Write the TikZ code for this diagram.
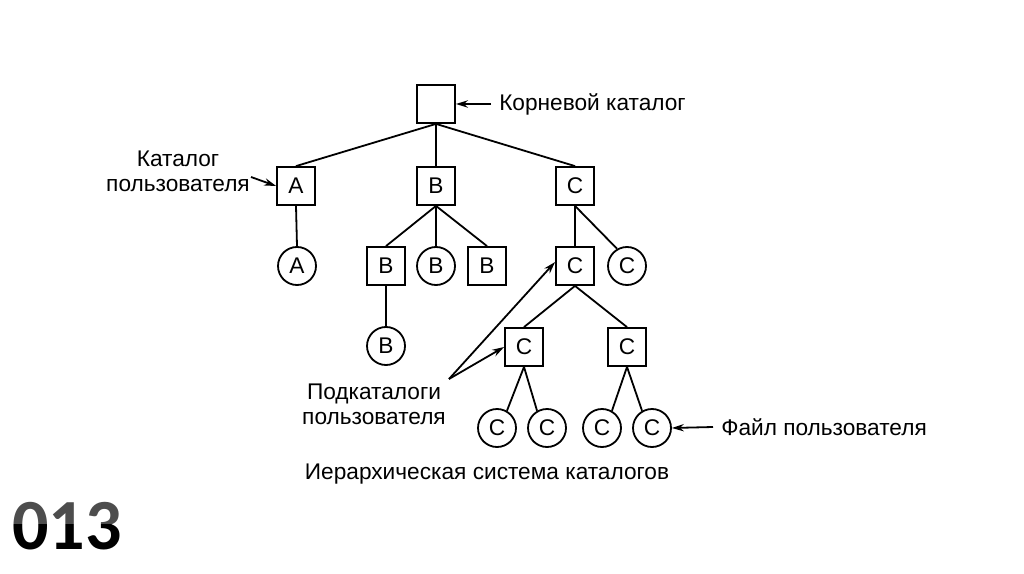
\documentclass[tikz,border=0pt]{standalone}
\usepackage{fontspec}
\setmainfont{Liberation Sans}
\newfontfamily\numfont{Carlito}
\usetikzlibrary{arrows.meta}
\begin{document}
\begin{tikzpicture}[x=0.75pt,y=-0.75pt,
  dirbox/.style={draw,line width=1.35pt,minimum size=28.5pt,inner sep=0pt,font=\fontsize{17}{19}\selectfont},
  filenode/.style={draw,circle,line width=1.35pt,minimum size=28.5pt,inner sep=0pt,font=\fontsize{17}{19}\selectfont},
  edge/.style={line width=1.35pt},
  lab/.style={font=\fontsize{17}{19}\selectfont,align=center,inner sep=0pt},
  arr/.style={line width=1.35pt,-{Stealth[length=9pt,width=5.5pt]}},
  bignum/.style={font=\numfont\bfseries\fontsize{54}{54}\selectfont,inner sep=0pt}]
\useasboundingbox (0,0) rectangle (1024,574);

% tree nodes
\node[dirbox] (root) at (436,104) {};
\node[dirbox] (A) at (296,186) {A};
\node[dirbox] (B) at (436,186) {B};
\node[dirbox] (C) at (575,186) {C};

\node[filenode] (Af) at (297,266) {A};
\node[dirbox] (B1) at (386,266) {B};
\node[filenode] (B2) at (436,266) {B};
\node[dirbox] (B3) at (487,266) {B};
\node[dirbox] (C1) at (575,266) {C};
\node[filenode] (C2) at (627,266) {C};

\node[filenode] (B1f) at (386,346) {B};
\node[dirbox] (C11) at (524,347) {C};
\node[dirbox] (C12) at (627,347) {C};

\node[filenode] (f1) at (497,428) {C};
\node[filenode] (f2) at (547,428) {C};
\node[filenode] (f3) at (602,428) {C};
\node[filenode] (f4) at (652,428) {C};

% edges
\draw[edge] (root.south) -- (A.north);
\draw[edge] (root.south) -- (B.north);
\draw[edge] (root.south) -- (C.north);
\draw[edge] (A.south) -- (Af.north);
\draw[edge] (B.south) -- (B1.north);
\draw[edge] (B.south) -- (B2.north);
\draw[edge] (B.south) -- (B3.north);
\draw[edge] (C.south) -- (C1.north);
\draw[edge] (C.south) -- (C2.120);
\draw[edge] (B1.south) -- (B1f.north);
\draw[edge] (C1.south) -- (C11.north);
\draw[edge] (C1.south) -- (C12.north);
\draw[edge] (C11.south) -- (f1.60);
\draw[edge] (C11.south) -- (f2.120);
\draw[edge] (C12.south) -- (f3.60);
\draw[edge] (C12.south) -- (f4.120);

% labels
\node[lab,anchor=west] (rootlab) at (499,104) {Корневой каталог};
\coordinate (rootarr) at (491,104);
\draw[arr] (rootarr) -- (root.east);

\node[lab] (userlab) at (178,171) {Каталог\\пользователя};
\coordinate (userarr) at (251,177);
\draw[arr] (userarr) -- (A.west);

\node[lab] (sublab) at (374,404) {Подкаталоги\\пользователя};
\coordinate (subarr) at (449,379);
\draw[arr] (subarr) -- ([yshift=3pt]C1.west);
\draw[arr] (subarr) -- (C11.west);

\node[lab,anchor=west] (filelab) at (721,427) {Файл пользователя};
\coordinate (filearr) at (713,427);
\draw[arr] (filearr) -- (f4.east);

\node[lab] (caption) at (487,474) {Иерархическая система каталогов};

% slide number
\node[bignum,text=black] (num) at (67,526) {013};
\fill[white,opacity=0.3] (5,496) rectangle (130,524);
\end{tikzpicture}
\end{document}
